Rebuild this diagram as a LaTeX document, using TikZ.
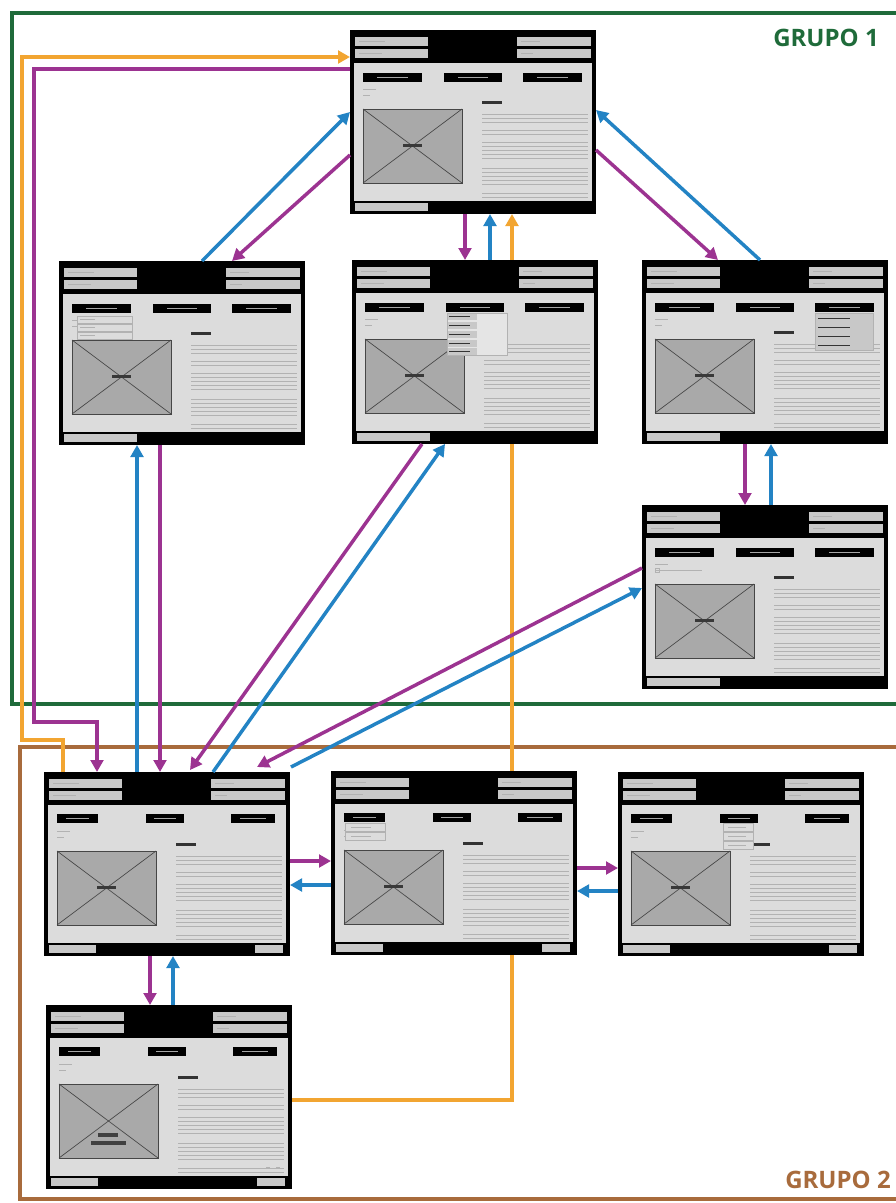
\documentclass[tikz,border=0pt]{standalone}
\usepackage{fontspec}
\setmainfont{Open Sans}
\usetikzlibrary{arrows.meta,calc,fit}
\definecolor{purp}{HTML}{9C3391}
\definecolor{blu}{HTML}{2383C4}
\definecolor{ora}{HTML}{F2A531}
\definecolor{grn}{HTML}{1F6B3A}
\definecolor{brn}{HTML}{A86B3C}
\definecolor{scrbg}{HTML}{DCDCDC}
\definecolor{barc}{HTML}{C8C8C8}
\definecolor{imgc}{HTML}{A9A9A9}
\tikzset{
  conn/.style={line width=2.6pt,-{Triangle[length=9pt,width=9.5pt]}},
  pconn/.style={conn,draw=purp,purp},
  bconn/.style={conn,draw=blu,blu},
  oconn/.style={conn,draw=ora,ora},
  frame/.style={line width=3pt},
  txt/.style={draw=gray!60,line width=0.75pt},
  scr/.style={inner sep=0pt,outer sep=0pt},
  grp/.style={font=\bfseries\fontsize{18}{21}\selectfont}
}
\newcommand\screenbase[4]{%
  \node[scr,fit={(#2,#3)(#2+246,#3+184)}] (#1) {};
  \begin{scope}[shift={(#2,#3)}]
    \fill[black] (0,0) rectangle (246,184);
    \fill[scrbg] (4,33) rectangle (242,171);
    \fill[barc] (5,7) rectangle (78,16);
    \fill[barc] (5,19) rectangle (78,28);
    \fill[barc] (167,7) rectangle (241,16);
    \fill[barc] (167,19) rectangle (241,28);
    \draw[gray!60,line width=0.6pt] (9,11.5) -- (35,11.5) (9,23.5) -- (32,23.5)
      (171,11.5) -- (190,11.5) (171,23.5) -- (183,23.5);
    \fill[imgc] (13,79) rectangle (112,153);
    \draw[gray!55!black,line width=0.5pt] (13,79) rectangle (112,153);
    \draw[gray!55!black,line width=0.5pt] (13,79) -- (112,153) (13,153) -- (112,79);
    \ifnum#4=1 \fill[gray!45!black] (53,113.5) rectangle (72,116.5);\fi
    \fill[gray!40!black] (132,71) rectangle (152,74);
    \foreach \yy in {84,88,92,100,104,112,116,120,124,128,138,142,146,150,154,163,167}
      \draw[txt] (132,\yy) -- (238,\yy);
    \draw[txt] (13,59) -- (26,59) (13,65) -- (20,65);
  \end{scope}}
\newcommand\topscreen[3]{%
  \screenbase{#1}{#2}{#3}{1}
  \begin{scope}[shift={(#2,#3)}]
    \fill[black] (13,43) rectangle (72,52);
    \fill[black] (94,43) rectangle (152,52);
    \fill[black] (173,43) rectangle (232,52);
    \draw[gray!70,line width=0.6pt] (27,47.5) -- (58,47.5) (108,47.5) -- (138,47.5) (187,47.5) -- (218,47.5);
    \fill[barc] (5,173) rectangle (78,181);
  \end{scope}}
\newcommand\botscreen[4]{%
  \screenbase{#1}{#2}{#3}{#4}
  \begin{scope}[shift={(#2,#3)}]
    \fill[black] (13,42) rectangle (54,51);
    \fill[black] (102,42) rectangle (140,51);
    \fill[black] (187,42) rectangle (231,51);
    \draw[gray!70,line width=0.6pt] (22,46.5) -- (45,46.5) (110,46.5) -- (132,46.5) (196,46.5) -- (222,46.5);
    \fill[barc] (5,173) rectangle (52,181);
    \fill[barc] (211,173) rectangle (239,181);
  \end{scope}}
\begin{document}
\begin{tikzpicture}[x=0.75pt,y=-0.75pt]
\useasboundingbox (0,0) rectangle (896,1203);
\fill[white] (0,0) rectangle (896,1203);
\begin{scope}
\clip (0,0) rectangle (896,1203);
\draw[frame,grn] (12,13) rectangle (920,704);
\draw[frame,brn] (20,747) rectangle (920,1199);
\end{scope}
\node[grp,text=grn] (g1) at (826,38) {GRUPO 1};
\node[grp,text=brn] (g2) at (838,1180) {GRUPO 2};
% nodes placed first (orange line behind)
\node[scr,fit={(350,30)(596,214)}] (S0) {};
\node[scr,fit={(46,1005)(292,1189)}] (S8) {};
\draw[oconn] ($(S8.north west)+(246,95)$) -| ($(S0.north west)+(162,184)$);
% screens
\topscreen{S0}{350}{30}
\topscreen{S1}{59}{261}
\topscreen{S2}{352}{260}
\topscreen{S3}{642}{260}
\topscreen{S4}{642}{505}
\botscreen{S5}{44}{772}{1}
\botscreen{S6}{331}{771}{1}
\botscreen{S7}{618}{772}{1}
\botscreen{S8}{46}{1005}{0}
% extras: dropdowns
\begin{scope}[shift={(S1.north west)}]
  \foreach \yy in {55,63,71}{
    \draw[gray!60,line width=0.5pt,fill=scrbg] (18,\yy) rectangle (73,\yy+7);
    \draw[txt,line width=0.6pt] (21,\yy+3.5) -- (36,\yy+3.5);}
\end{scope}
\begin{scope}[shift={(S2.north west)}]
  \fill[gray!20] (95,53) rectangle (155,95);
  \foreach \yy in {53,62,71,80,88}{
    \fill[barc] (95,\yy) rectangle (125,\yy+7);
    \draw[gray!40!black,line width=0.5pt] (97,\yy+3.5) -- (118,\yy+3.5);}
  \draw[gray!60,line width=0.5pt] (95,53) rectangle (155,95);
\end{scope}
\begin{scope}[shift={(S3.north west)}]
  \fill[barc] (173,53) rectangle (231,90);
  \foreach \yy in {56,65,74,83}
    \draw[gray!40!black,line width=0.5pt] (176,\yy+2) -- (208,\yy+2);
  \draw[gray!60,line width=0.5pt] (173,53) rectangle (231,90);
\end{scope}
\begin{scope}[shift={(S4.north west)}]
  \draw[gray!60,line width=0.5pt] (13,63) rectangle (17,67);
  \draw[txt,line width=0.6pt] (20,65) -- (60,65);
\end{scope}
\begin{scope}[shift={(S6.north west)}]
  \foreach \yy in {52,61}{
    \draw[gray!60,line width=0.5pt,fill=scrbg] (14,\yy) rectangle (54,\yy+8);
    \draw[txt,line width=0.6pt] (20,\yy+4) -- (40,\yy+4);}
\end{scope}
\begin{scope}[shift={(S7.north west)}]
  \foreach \yy in {51,60,69}{
    \draw[gray!60,line width=0.5pt,fill=scrbg] (105,\yy) rectangle (135,\yy+8);
    \draw[txt,line width=0.6pt] (110,\yy+4) -- (128,\yy+4);}
\end{scope}
\begin{scope}[shift={(S8.north west)}]
  \fill[gray!50!black] (52,128) rectangle (72,132);
  \fill[gray!50!black] (45,136) rectangle (80,140);
  \draw[txt] (220,162) -- (224,162) (230,162) -- (234,162);
\end{scope}
% connectors group 1
\draw[pconn] ($(S0.north west)+(0,125)$) -- ($(S1.north west)+(173,0)$);
\draw[bconn] ($(S1.north west)+(143,0)$) -- ($(S0.north west)+(0,82)$);
\draw[pconn] ($(S0.north west)+(115,184)$) -- ($(S2.north west)+(113,0)$);
\draw[bconn] ($(S2.north west)+(138,0)$) -- ($(S0.north west)+(140,184)$);
\draw[pconn] ($(S0.north west)+(246,120)$) -- ($(S3.north west)+(76,0)$);
\draw[bconn] ($(S3.north west)+(118,0)$) -- ($(S0.north west)+(246,80)$);
\draw[pconn] ($(S3.north west)+(103,184)$) -- ($(S4.north west)+(103,0)$);
\draw[bconn] ($(S4.north west)+(129,0)$) -- ($(S3.north west)+(129,184)$);
% between groups
\draw[bconn] ($(S5.north west)+(93,0)$) -- ($(S1.north west)+(78,184)$);
\draw[pconn] ($(S1.north west)+(101,184)$) -- ($(S5.north west)+(116,0)$);
\draw[pconn] ($(S2.north west)+(70,184)$) -- ($(S5.north west)+(146,-2)$);
\draw[bconn] ($(S5.north west)+(169,0)$) -- ($(S2.north west)+(93,184)$);
\draw[pconn] ($(S4.north west)+(0,63)$) -- ($(S5.north west)+(213,-5)$);
\draw[bconn] ($(S5.north west)+(247,-5)$) -- ($(S4.north west)+(0,83)$);
% long side connectors
\coordinate (o1) at (63,740);
\coordinate (o2) at (22,57);
\draw[oconn] ($(S5.north west)+(19,0)$) -- (o1) -| (o2) -- ($(S0.north west)+(0,27)$);
\coordinate (p1) at (34,69);
\coordinate (p2) at (97,722);
\draw[pconn] ($(S0.north west)+(0,39)$) -- (p1) |- (p2) -- ($(S5.north west)+(53,0)$);
% group 2
\draw[pconn] ($(S5.north west)+(246,89)$) -- ($(S6.north west)+(0,90)$);
\draw[bconn] ($(S6.north west)+(0,114)$) -- ($(S5.north west)+(246,113)$);
\draw[pconn] ($(S6.north west)+(246,97)$) -- ($(S7.north west)+(0,96)$);
\draw[bconn] ($(S7.north west)+(0,119)$) -- ($(S6.north west)+(246,120)$);
\draw[pconn] ($(S5.north west)+(106,184)$) -- ($(S8.north west)+(104,0)$);
\draw[bconn] ($(S8.north west)+(127,0)$) -- ($(S5.north west)+(129,184)$);
\end{tikzpicture}
\end{document}
